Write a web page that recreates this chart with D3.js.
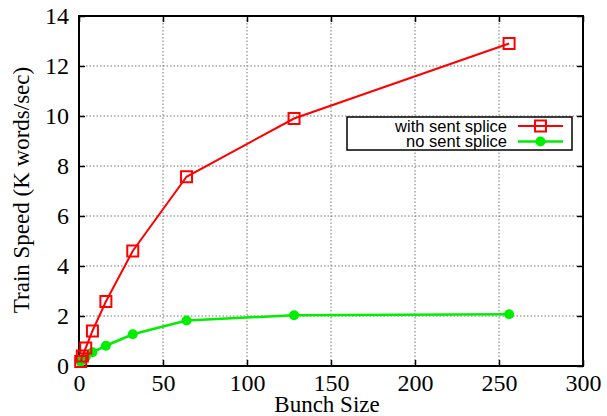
<!DOCTYPE html>
<html>
<head>
<meta charset="utf-8">
<script src="https://cdn.jsdelivr.net/npm/d3@7"></script>
<style>
  body { margin: 0; background: white; }
  svg { display: block; }
</style>
</head>
<body>
<div id="chart"></div>
<script>
let w = 607;
let h = 416;

// data
let bunchSizes = [1, 2, 4, 8, 16, 32, 64, 128, 256];
let withSplice = [0.18, 0.4, 0.72, 1.4, 2.58, 4.6, 7.57, 9.9, 12.9];
let noSplice = [0.17, 0.26, 0.36, 0.55, 0.81, 1.27, 1.82, 2.03, 2.07];
let xTicks = [0, 50, 100, 150, 200, 250, 300];
let yTicks = [0, 2, 4, 6, 8, 10, 12, 14];
let seriesNames = ["with sent splice", "no sent splice"];

let plotLeft = 79, plotRight = 583, plotTop = 16, plotBottom = 366;

let svg = d3.select("#chart")
  .append("svg")
  .attr("width", w)
  .attr("height", h);

let x = d3.scaleLinear().domain([0, 300]).range([plotLeft, plotRight]);
let y = d3.scaleLinear().domain([0, 14]).range([plotBottom, plotTop]);

// grid
let grid = svg.append("g")
  .attr("stroke", "#777")
  .attr("stroke-width", 1)
  .attr("stroke-dasharray", "1.5,2");

grid.selectAll(".gx").data(xTicks.slice(1, -1)).enter()
  .append("line")
  .attr("x1", d => x(d)).attr("x2", d => x(d))
  .attr("y1", plotTop).attr("y2", plotBottom);

grid.selectAll(".gy").data(yTicks.slice(1, -1)).enter()
  .append("line")
  .attr("y1", d => y(d)).attr("y2", d => y(d))
  .attr("x1", plotLeft).attr("x2", plotRight);

// axes, ticks pointing inward, mirrored on all sides
let tickLen = 6;
let axisFont = "'Liberation Serif', 'Times New Roman', serif";

let xBottom = svg.append("g")
  .attr("transform", "translate(0," + plotBottom + ")")
  .call(d3.axisBottom(x).tickValues(xTicks).tickSize(-tickLen).tickPadding(tickLen + 2));
let xTop = svg.append("g")
  .attr("transform", "translate(0," + plotTop + ")")
  .call(d3.axisTop(x).tickValues(xTicks).tickSize(-tickLen).tickFormat(""));
let yLeft = svg.append("g")
  .attr("transform", "translate(" + plotLeft + ",0)")
  .call(d3.axisLeft(y).tickValues(yTicks).tickSize(-tickLen).tickPadding(tickLen + 4));
let yRight = svg.append("g")
  .attr("transform", "translate(" + plotRight + ",0)")
  .call(d3.axisRight(y).tickValues(yTicks).tickSize(-tickLen).tickFormat(""));

[xBottom, xTop, yLeft, yRight].forEach(a => {
  a.select(".domain").remove();
  a.selectAll("line").attr("stroke", "black").attr("stroke-width", 1.5);
  a.selectAll("text")
    .attr("fill", "black")
    .style("font-family", axisFont)
    .style("font-size", "24px");
});

svg.append("rect")
  .attr("x", plotLeft).attr("y", plotTop)
  .attr("width", plotRight - plotLeft).attr("height", plotBottom - plotTop)
  .attr("fill", "none")
  .attr("stroke", "black")
  .attr("stroke-width", 2);

// axis labels
svg.append("text")
  .attr("x", 327)
  .attr("y", 412)
  .attr("text-anchor", "middle")
  .style("font-family", axisFont)
  .style("font-size", "23px")
  .text("Bunch Size");

svg.append("text")
  .attr("transform", "translate(29,190) rotate(-90)")
  .attr("text-anchor", "middle")
  .style("font-family", axisFont)
  .style("font-size", "23px")
  .text("Train Speed (K words/sec)");

// series
let red = "#ff0000";
let green = "#00ee00";

let line = d3.line()
  .x(d => x(d[0]))
  .y(d => y(d[1]));

let redData = bunchSizes.map((b, i) => [b, withSplice[i]]);
let greenData = bunchSizes.map((b, i) => [b, noSplice[i]]);

svg.append("path")
  .datum(greenData)
  .attr("d", line)
  .attr("fill", "none")
  .attr("stroke", green)
  .attr("stroke-width", 2.5);

svg.selectAll(".gdot").data(greenData).enter()
  .append("circle")
  .attr("cx", d => x(d[0]))
  .attr("cy", d => y(d[1]))
  .attr("r", 5)
  .attr("fill", green);

svg.append("path")
  .datum(redData)
  .attr("d", line)
  .attr("fill", "none")
  .attr("stroke", red)
  .attr("stroke-width", 2);

let sq = 11;
svg.selectAll(".rsq").data(redData).enter()
  .append("rect")
  .attr("x", d => x(d[0]) - sq / 2)
  .attr("y", d => y(d[1]) - sq / 2)
  .attr("width", sq).attr("height", sq)
  .attr("fill", "none")
  .attr("stroke", red)
  .attr("stroke-width", 2);

// legend
let lg = svg.append("g");
lg.append("rect")
  .attr("x", 347).attr("y", 117)
  .attr("width", 225).attr("height", 33)
  .attr("fill", "white")
  .attr("stroke", "black")
  .attr("stroke-width", 1.5);

let rows = [
  { name: seriesNames[0], color: red, y: 126, mark: "square" },
  { name: seriesNames[1], color: green, y: 141.5, mark: "circle" }
];

rows.forEach(r => {
  lg.append("text")
    .attr("x", 507)
    .attr("y", r.y + 5.5)
    .attr("text-anchor", "end")
    .style("font-family", "'Liberation Sans', Arial, sans-serif")
    .style("font-size", "16.5px")
    .text(r.name);
  lg.append("line")
    .attr("x1", 518).attr("x2", 563)
    .attr("y1", r.y).attr("y2", r.y)
    .attr("stroke", r.color)
    .attr("stroke-width", r.mark == "square" ? 2 : 2.5);
  if (r.mark == "square") {
    lg.append("rect")
      .attr("x", 540.5 - sq / 2).attr("y", r.y - sq / 2)
      .attr("width", sq).attr("height", sq)
      .attr("fill", "none")
      .attr("stroke", r.color)
      .attr("stroke-width", 2);
  } else {
    lg.append("circle")
      .attr("cx", 540.5).attr("cy", r.y).attr("r", 5)
      .attr("fill", r.color);
  }
});
</script>
</body>
</html>
